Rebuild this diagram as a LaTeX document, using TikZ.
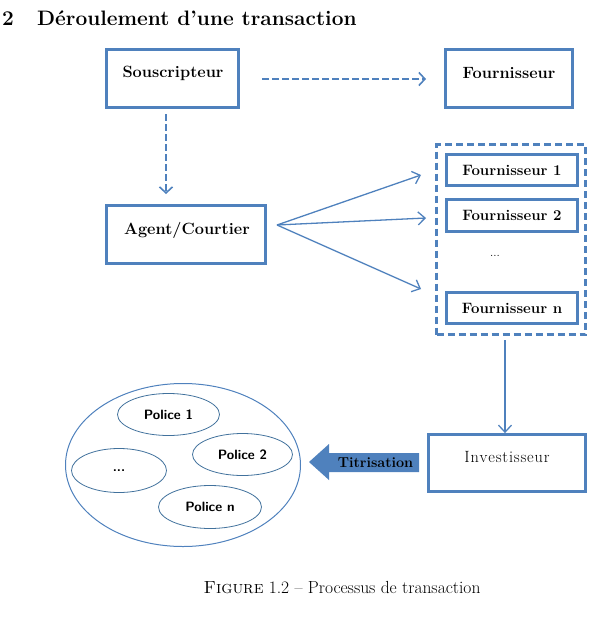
\documentclass[tikz,border=0pt]{standalone}
\usetikzlibrary{arrows.meta,shapes.geometric}
\definecolor{obl}{HTML}{4F81BD}
\definecolor{odk}{HTML}{41719C}
\begin{document}
\begin{tikzpicture}[x=1pt,y=-1pt,
  box/.style={draw=obl,line width=2.8pt,rectangle,inner sep=0pt},
  boxtxt/.style={inner sep=0pt,font=\fontsize{16.3}{18}\selectfont\bfseries},
  sbox/.style={draw=obl,line width=2.6pt,rectangle,inner sep=0pt,minimum width=131pt,font=\fontsize{15}{17}\selectfont\bfseries},
  dasharr/.style={draw=obl,line width=2pt,dash pattern=on 6.5pt off 3.5pt,-{Straight Barb[length=6pt,width=13pt,line width=1.6pt]}},
  solidarr/.style={draw=obl,line width=1.3pt,-{Straight Barb[length=7pt,width=13pt]}},
  pol/.style={draw=odk,line width=0.8pt,ellipse,inner sep=0pt,font=\fontsize{13.5}{15}\selectfont\sffamily\bfseries}]
\useasboundingbox (0,0) rectangle (597,621);
% heading
\node[anchor=base west,inner sep=0pt,font=\fontsize{20.9}{24}\selectfont\bfseries] (num) at (2,25) {2};
\node[anchor=base west,inner sep=0pt,font=\fontsize{20.9}{24}\selectfont\bfseries] (title) at (37,25) {Déroulement d'une transaction};
% boxes
\node[box,minimum width=132pt,minimum height=58pt] (sous) at (172.5,78.5) {};
\node[boxtxt] (soust) at (173,73) {Souscripteur};
\node[box,minimum width=127pt,minimum height=58pt] (four) at (509,78.5) {};
\node[boxtxt] (fourt) at (509,73) {Fournisseur};
\node[box,minimum width=159pt,minimum height=58pt] (agent) at (186,234.5) {};
\node[boxtxt] (agentt) at (187,230) {Agent/Courtier};
% group
\node[draw=obl,line width=2.8pt,dash pattern=on 7pt off 4pt,minimum width=149pt,minimum height=190pt,inner sep=0pt] (grp) at (511,239.5) {};
\node[sbox,minimum height=31pt] (f1) at (512,170) {Fournisseur 1};
\node[sbox,minimum height=32pt] (f2) at (512,215.5) {Fournisseur 2};
\node[font=\fontsize{12}{14}\selectfont] (dots) at (495,256) {...};
\node[sbox,minimum height=31pt] (fn) at (512,308) {Fournisseur n};
\node[box,minimum width=157pt,minimum height=57pt] (inv) at (507,463) {};
\node[inner sep=0pt,font=\fontsize{16.3}{18}\selectfont] (invt) at (507,457) {I\kern.8pt n\kern.8pt v\kern.8pt e\kern.8pt s\kern.8pt t\kern.8pt i\kern.8pt s\kern.8pt s\kern.8pt e\kern.8pt u\kern.8pt r};
% connectors
\coordinate (h1) at (262,79);
\coordinate (h2) at (426,79);
\draw[dasharr] (h1) -- (h2);
\coordinate (v1) at (166,114);
\coordinate (v2) at (166,194);
\draw[dasharr] (v1) -- (v2);
\coordinate (src) at (277,225);
\coordinate (t1) at (421,175);
\coordinate (t2) at (426,218);
\coordinate (t3) at (421,289);
\draw[solidarr] (src) -- (t1);
\draw[solidarr] (src) -- (t2);
\draw[solidarr] (src) -- (t3);
\coordinate (d1) at (505,340);
\draw[solidarr] (d1) -- (inv.north -| d1);
% titrisation arrow
\fill[obl] (309,462) -- (329,444) -- (329,453) -- (419,453) -- (419,472) -- (329,472) -- (329,480) -- cycle;
\node[font=\fontsize{14.4}{16}\selectfont\bfseries,inner sep=0pt] (tit) at (375.5,463) {Titrisation};
% ellipses
\node[draw=obl,line width=1pt,ellipse,minimum width=235pt,minimum height=163pt,inner sep=0pt] (big) at (183,465) {};
\node[pol,minimum width=102pt,minimum height=42pt] (p1) at (168.5,414.5) {Police 1};
\node[pol,minimum width=100pt,minimum height=42pt] (p2) at (242.5,454.5) {Police 2};
\node[pol,minimum width=95pt,minimum height=44pt] (pd) at (119,470.5) {...};
\node[pol,minimum width=103pt,minimum height=43pt] (pn) at (210,507) {Police n};
% caption
\node[anchor=base,inner sep=0pt,font=\fontsize{17.5}{20}\selectfont] (cap) at (342,593) {\textsc{Figure} 1.2 -- Processus de transaction};
\end{tikzpicture}
\end{document}
